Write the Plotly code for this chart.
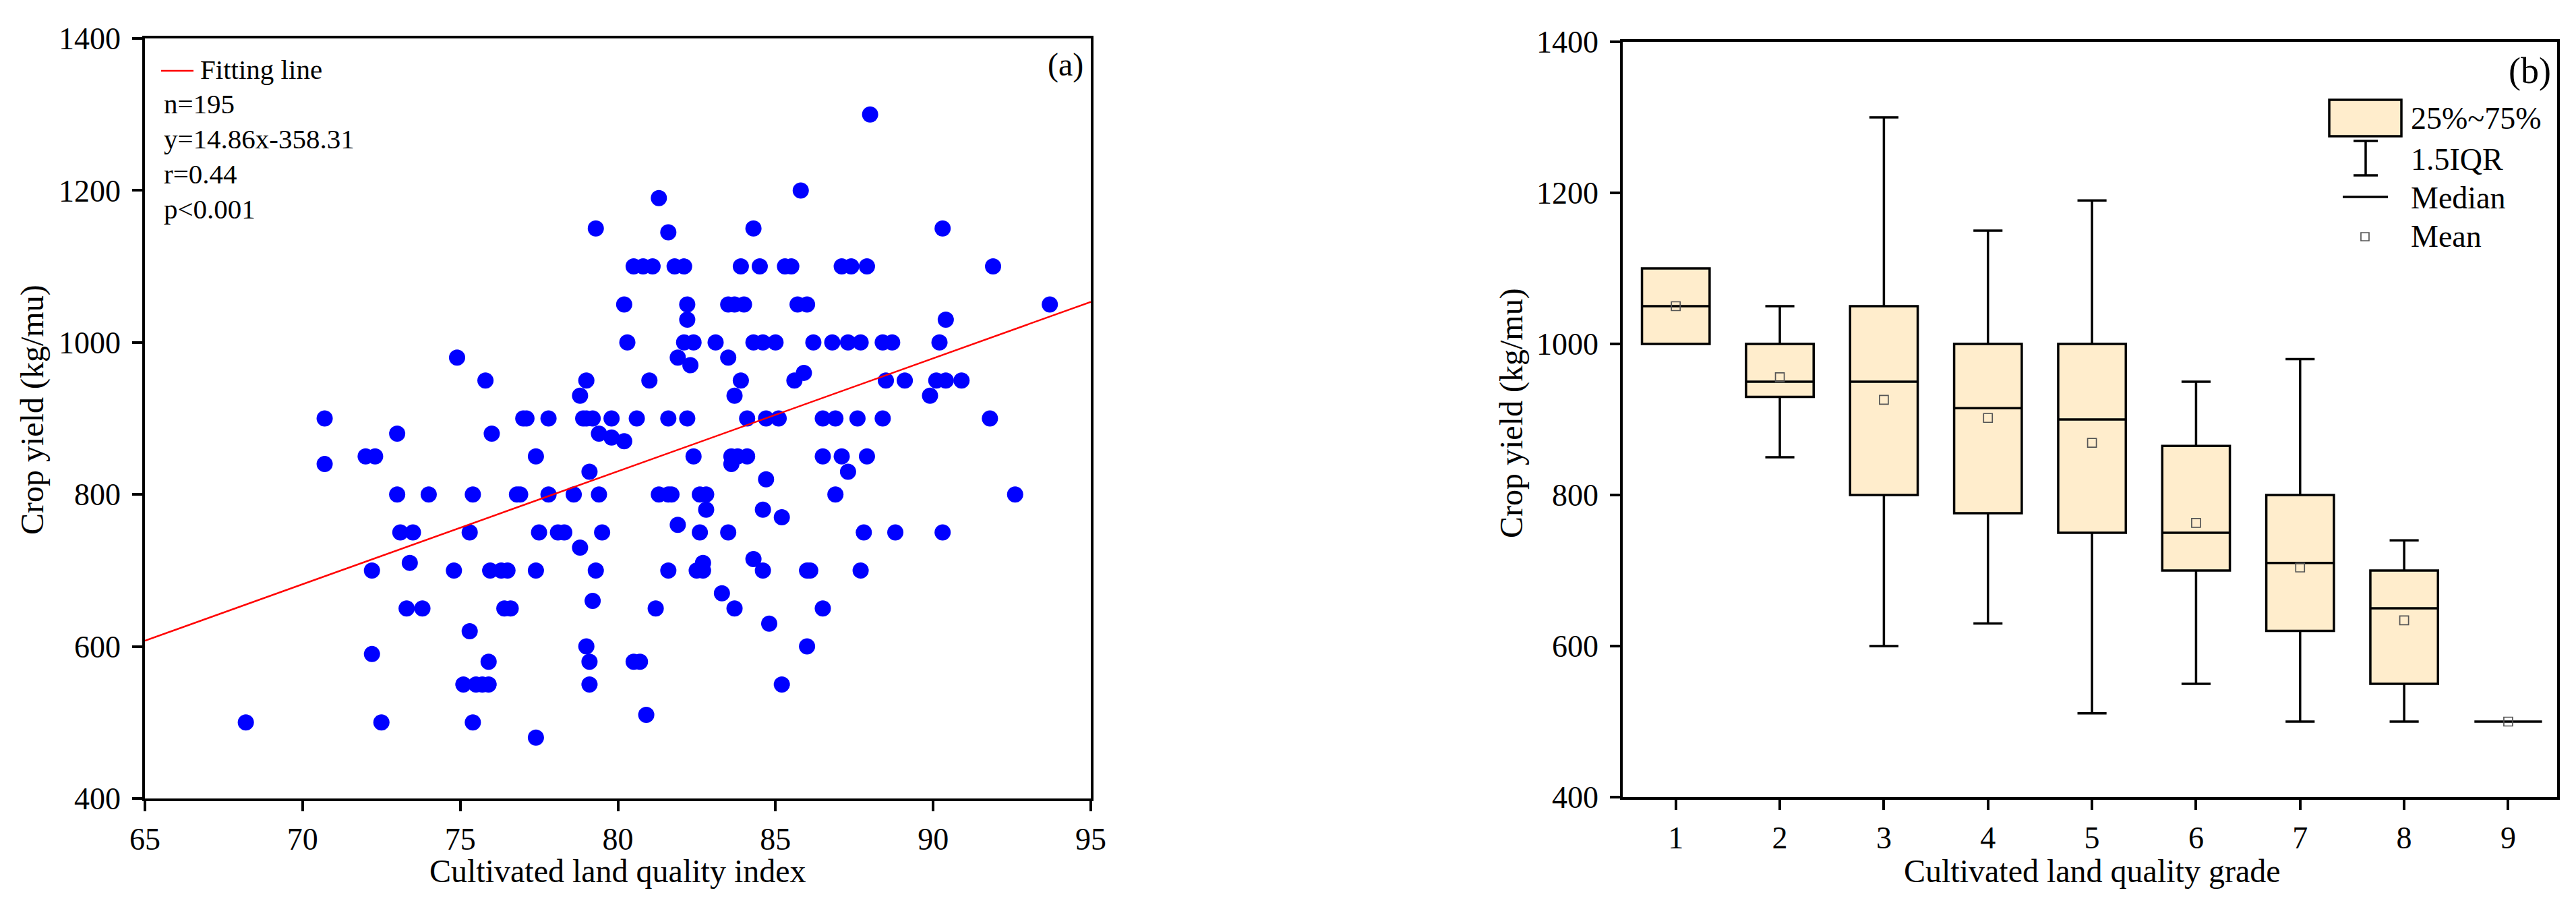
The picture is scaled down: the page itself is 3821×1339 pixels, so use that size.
import plotly.graph_objects as go

# ---------------- Panel (a): scatter data ----------------
quality_index = [
    88.0,                                   # 1300
    85.8,                                   # 1200
    81.3,                                   # 1190
    79.3, 84.3, 90.3,                       # 1150
    81.6,                                   # 1145
    80.5, 80.8, 81.1, 81.8, 82.1, 83.9, 84.5, 85.3, 85.5, 87.1, 87.4, 87.9, 91.9,   # 1100
    80.2, 82.2, 83.5, 83.7, 84.0, 85.7, 86.0, 93.7,                                 # 1050
    82.2, 90.4,                                                                     # 1030
    80.3, 82.1, 82.4, 83.1, 84.3, 84.6, 85.0, 86.2, 86.8, 87.3, 87.7, 88.4, 88.7, 90.2,  # 1000
    74.9, 81.9, 83.5,                       # 980
    82.3,                                   # 970
    85.9,                                   # 960
    75.8, 79.0, 81.0, 83.9, 85.6, 88.5, 89.1, 90.1, 90.4, 90.9,                     # 950
    78.8, 83.7, 89.9,                       # 930
    70.7, 77.0, 77.1, 77.8, 78.9, 79.0, 79.2, 79.8, 80.6, 81.6, 82.2, 84.1, 84.7,
    85.1, 86.5, 86.9, 87.6, 88.4, 91.8,     # 900
    73.0, 76.0, 79.4,                       # 880
    79.8,                                   # 875
    80.2,                                   # 870
    72.0, 72.3, 77.4, 82.4, 83.6, 83.8, 84.1, 86.5, 87.1, 87.9,                     # 850
    70.7, 83.6,                             # 840
    79.1, 87.3,                             # 830
    84.7,                                   # 820
    73.0, 74.0, 75.4, 76.8, 76.9, 77.8, 78.6, 79.4, 81.3, 81.6, 81.7, 82.6, 82.8,
    86.9, 92.6,                             # 800
    82.8, 84.6,                             # 780
    85.2,                                   # 770
    81.9,                                   # 760
    73.1, 73.5, 75.3, 77.5, 78.1, 78.3, 79.5, 82.6, 83.5, 87.8, 88.8, 90.3,         # 750
    78.8,                                   # 730
    84.3,                                   # 715
    73.4, 82.7,                             # 710
    72.2, 74.8, 75.95, 76.3, 76.5, 77.4, 79.3, 81.6, 82.5, 82.7, 84.6, 86.0, 86.1, 87.7,  # 700
    83.3,                                   # 670
    79.2,                                   # 660
    73.3, 73.8, 76.4, 76.6, 81.2, 83.7, 86.5,                                       # 650
    84.8,                                   # 630
    75.3,                                   # 620
    79.0, 86.0,                             # 600
    72.2,                                   # 590
    75.9, 79.1, 80.5, 80.7,                 # 580
    75.1, 75.5, 75.7, 75.9, 79.1, 85.2,     # 550
    80.9,                                   # 510
    68.2, 72.5, 75.4,                       # 500
    77.4,                                   # 480
]

crop_yield = [
    1300,
    1200,
    1190,
    1150, 1150, 1150,
    1145,
    1100, 1100, 1100, 1100, 1100, 1100, 1100, 1100, 1100, 1100, 1100, 1100, 1100,
    1050, 1050, 1050, 1050, 1050, 1050, 1050, 1050,
    1030, 1030,
    1000, 1000, 1000, 1000, 1000, 1000, 1000, 1000, 1000, 1000, 1000, 1000, 1000, 1000,
    980, 980, 980,
    970,
    960,
    950, 950, 950, 950, 950, 950, 950, 950, 950, 950,
    930, 930, 930,
    900, 900, 900, 900, 900, 900, 900, 900, 900, 900, 900, 900, 900,
    900, 900, 900, 900, 900, 900,
    880, 880, 880,
    875,
    870,
    850, 850, 850, 850, 850, 850, 850, 850, 850, 850,
    840, 840,
    830, 830,
    820,
    800, 800, 800, 800, 800, 800, 800, 800, 800, 800, 800, 800, 800,
    800, 800,
    780, 780,
    770,
    760,
    750, 750, 750, 750, 750, 750, 750, 750, 750, 750, 750, 750,
    730,
    715,
    710, 710,
    700, 700, 700, 700, 700, 700, 700, 700, 700, 700, 700, 700, 700, 700,
    670,
    660,
    650, 650, 650, 650, 650, 650, 650,
    630,
    620,
    600, 600,
    590,
    580, 580, 580, 580,
    550, 550, 550, 550, 550, 550,
    510,
    500, 500, 500,
    480,
]

fit_slope = 14.86
fit_intercept = -358.31
stats_lines = ["n=195", "y=14.86x-358.31", "r=0.44", "p<0.001"]

# ---------------- Panel (b): box statistics by grade ----------------
grades = [1, 2, 3, 4, 5, 6, 7, 8, 9]
q1_vals = [1000, 930, 800, 776, 750, 700, 620, 550, 500]
median_vals = [1050, 950, 950, 915, 900, 750, 710, 650, 500]
q3_vals = [1100, 1000, 1050, 1000, 1000, 865, 800, 700, 500]
lower_whisker = [1000, 850, 600, 630, 511, 550, 500, 500, 500]
upper_whisker = [1100, 1050, 1300, 1150, 1190, 950, 980, 740, 500]
mean_vals = [1050, 956, 926, 902, 869, 763, 704, 634, 500]

legend_b_labels = ["25%~75%", "1.5IQR", "Median", "Mean"]

# ---------------- figure geometry ----------------
W, H = 3821, 1339
FONT = "Liberation Serif, Times New Roman, serif"
BOX_FILL = "#FFEDCC"


def px(x):
    return x / W


def py(y):
    return 1 - y / H


fig = go.Figure()

# scatter points
fig.add_trace(go.Scatter(
    x=quality_index, y=crop_yield, mode="markers",
    marker=dict(color="#0000FF", size=24, line=dict(width=0)),
    xaxis="x", yaxis="y", showlegend=False, hoverinfo="x+y"))

# fitting line across the axis range
x_fit = [65, 95]
y_fit = [fit_slope * v + fit_intercept for v in x_fit]
fig.add_trace(go.Scatter(
    x=x_fit, y=y_fit, mode="lines", line=dict(color="#FF0000", width=2.5),
    xaxis="x", yaxis="y", showlegend=False))

# box plot
fig.add_trace(go.Box(
    x=grades, q1=q1_vals, median=median_vals, q3=q3_vals,
    lowerfence=lower_whisker, upperfence=upper_whisker,
    orientation="v", width=0.65, whiskerwidth=0.43, boxpoints=False,
    fillcolor=BOX_FILL, line=dict(color="black", width=3.5),
    xaxis="x2", yaxis="y2", showlegend=False))

# mean markers
fig.add_trace(go.Scatter(
    x=grades, y=mean_vals, mode="markers",
    marker=dict(symbol="square-open", size=13, color="#555555", line=dict(width=1.7, color="#555555")),
    xaxis="x2", yaxis="y2", showlegend=False))

axis_common = dict(
    showline=True, mirror=True, linecolor="black", linewidth=3.5,
    ticks="outside", ticklen=15, tickwidth=3.5, tickcolor="black",
    showgrid=False, zeroline=False, automargin=False,
    tickfont=dict(family=FONT, size=46, color="black"),
)

fig.update_layout(
    width=W, height=H,
    margin=dict(l=0, r=0, t=0, b=0),
    paper_bgcolor="white", plot_bgcolor="white",
    font=dict(family=FONT, color="black"),
    showlegend=False,
    xaxis=dict(domain=[px(207), px(1610)], anchor="y", range=[65, 95],
               tick0=65, dtick=5, ticklabelstandoff=2, **axis_common),
    yaxis=dict(domain=[py(1176), py(49)], anchor="x", range=[400, 1400],
               tick0=400, dtick=200, ticklabelstandoff=8, **axis_common),
    xaxis2=dict(domain=[px(2399), px(3785)], anchor="y2", range=[0.49, 9.47],
                tickvals=grades, ticklabelstandoff=2, **axis_common),
    yaxis2=dict(domain=[py(1174), py(54)], anchor="x2", range=[400, 1400],
                tick0=400, dtick=200, ticklabelstandoff=8, **axis_common),
)

ann = []


def text(x, y, s, size, xanchor="left", textangle=0):
    ann.append(dict(x=px(x), y=py(y), xref="paper", yref="paper", text=s,
                    showarrow=False, xanchor=xanchor, yanchor="middle",
                    textangle=textangle,
                    font=dict(family=FONT, size=size, color="black")))


# axis titles
text(908, 1283, "Cultivated land quality index", 48, xanchor="center")
text(40, 600, "Crop yield (kg/mu)", 48, xanchor="center", textangle=-90)
text(3095, 1283, "Cultivated land quality grade", 48, xanchor="center")
text(2234, 605, "Crop yield (kg/mu)", 48, xanchor="center", textangle=-90)

# panel labels
text(1601, 88, "(a)", 48, xanchor="right")
text(3778, 97, "(b)", 54, xanchor="right")

# panel (a) legend / statistics
text(287, 95, "Fitting line", 41)
for i, s in enumerate(stats_lines):
    text(233, 146 + i * 52, s, 41)

# panel (b) legend texts
legend_y = [167, 228, 285, 343]
for s, yy in zip(legend_b_labels, legend_y):
    text(3566, yy, s, 46)

fig.update_layout(annotations=ann)

shapes = []
# fitting-line legend glyph
shapes.append(dict(type="line", xref="paper", yref="paper",
                   x0=px(231), x1=px(279), y0=py(97), y1=py(97),
                   line=dict(color="#FF0000", width=2.5)))
# box glyph
shapes.append(dict(type="rect", xref="paper", yref="paper",
                   x0=px(3447), x1=px(3554), y0=py(194), y1=py(140),
                   fillcolor=BOX_FILL, line=dict(color="black", width=3.5)))
# whisker glyph
shapes.append(dict(type="line", xref="paper", yref="paper",
                   x0=px(3501), x1=px(3501), y0=py(252), y1=py(201),
                   line=dict(color="black", width=3.5)))
for yy in (201, 252):
    shapes.append(dict(type="line", xref="paper", yref="paper",
                       x0=px(3483), x1=px(3519), y0=py(yy), y1=py(yy),
                       line=dict(color="black", width=3.5)))
# median glyph
shapes.append(dict(type="line", xref="paper", yref="paper",
                   x0=px(3467), x1=px(3534), y0=py(284), y1=py(284),
                   line=dict(color="black", width=3.5)))
# mean glyph
shapes.append(dict(type="rect", xref="paper", yref="paper",
                   x0=px(3494), x1=px(3506), y0=py(349), y1=py(337),
                   fillcolor="rgba(0,0,0,0)", line=dict(color="#555555", width=1.7)))
fig.update_layout(shapes=shapes)

fig.write_html("out.html")
